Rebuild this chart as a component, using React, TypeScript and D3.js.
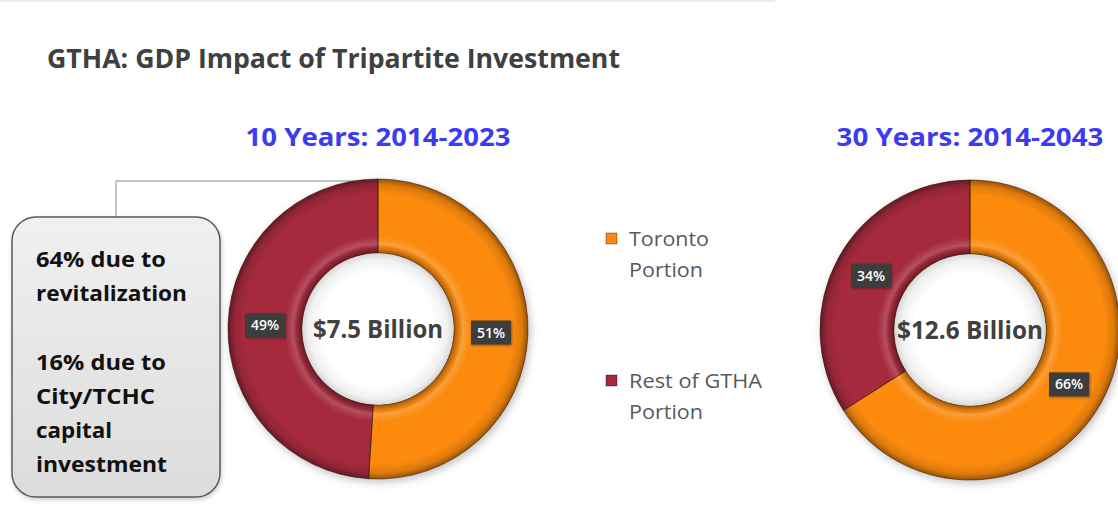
import React from "react";
import * as d3 from "d3";

const categories = ["Toronto Portion", "Rest of GTHA Portion"];
const legendLines = [["Toronto", "Portion"], ["Rest of GTHA", "Portion"]];
const tenYearShares = [51, 49];
const thirtyYearShares = [66, 34];
const periodTitles = ["10 Years: 2014-2023", "30 Years: 2014-2043"];
const totals = ["$7.5 Billion", "$12.6 Billion"];
const calloutLines = ["64% due to", "revitalization", "", "16% due to", "City/TCHC", "capital", "investment"];
const mainTitle = "GTHA: GDP Impact of Tripartite Investment";

const W = 1118;
const H = 506;
const colors = ["#FB8A10", "#A52A3C"];
const FONT = "'Open Sans', 'Noto Sans', sans-serif";

type Donut = { cx: number; cy: number; values: number[]; title: string; total: string; titleW: number; totalW: number };

const donuts: Donut[] = [
  { cx: 378, cy: 329, values: tenYearShares, title: periodTitles[0], total: totals[0], titleW: 265, totalW: 130 },
  { cx: 970, cy: 330, values: thirtyYearShares, title: periodTitles[1], total: totals[1], titleW: 267, totalW: 146 },
];

const R_OUT = 150;
const R_IN = 76;

function DonutChart({ d, idx }: { d: Donut; idx: number }) {
  const pie = d3.pie<number>().sort(null).value((v) => v);
  const arcs = pie(d.values);
  const arc = d3.arc<d3.PieArcDatum<number>>().innerRadius(R_IN).outerRadius(R_OUT);
  const labelArc = d3.arc<d3.PieArcDatum<number>>().innerRadius(113).outerRadius(113);
  return (
    <g>
      <text x={d.cx} y={146} textAnchor="middle" fontFamily={FONT} fontWeight={700} fontSize={25} fill="#3B3BF2" textLength={d.titleW} lengthAdjust="spacingAndGlyphs">
        {d.title}
      </text>
      <g transform={`translate(${d.cx},${d.cy})`}>
        <g filter="url(#dshadow)">
          {arcs.map((a, i) => (
            <path key={i} d={arc(a) || ""} fill={colors[i]} />
          ))}
        </g>
        {arcs.map((a, i) => (
          <path key={"o" + i} d={arc(a) || ""} fill={`url(#bevel${idx})`} stroke="#3a1a10" strokeOpacity={0.6} strokeWidth={1} />
        ))}
        <circle r={R_IN - 0.5} fill="url(#hole)" />
        {arcs.map((a, i) => {
          const [x, y] = labelArc.centroid(a);
          return (
            <g key={"l" + i} transform={`translate(${x},${y})`}>
              <rect x={-20} y={-12} width={40} height={24} fill="#3C3C3C" filter="url(#lshadow)" />
              <text y={5} textAnchor="middle" fontFamily={FONT} fontSize={14} fontWeight={600} fill="#ffffff">
                {d.values[i]}%
              </text>
            </g>
          );
        })}
        <text y={9} textAnchor="middle" fontFamily={FONT} fontWeight={700} fontSize={25} fill="#404040" textLength={d.totalW} lengthAdjust="spacingAndGlyphs">
          {d.total}
        </text>
      </g>
    </g>
  );
}

export default function App() {
  const calloutW = [130, 151, 0, 130, 119, 76, 131];
  const legendW = [[80, 74], [133, 74]];
  return (
    <svg width={W} height={H} style={{ position: "absolute", left: 0, top: 0, background: "#ffffff" }}>
      <defs>
        {donuts.map((d, i) => (
          <radialGradient key={i} id={`bevel${i}`} gradientUnits="userSpaceOnUse" cx={0} cy={0} r={R_OUT}>
            <stop offset="0.5" stopColor="#000" stopOpacity={0.45} />
            <stop offset="0.535" stopColor="#000" stopOpacity={0.12} />
            <stop offset="0.565" stopColor="#fff" stopOpacity={0.18} />
            <stop offset="0.62" stopColor="#fff" stopOpacity={0} />
            <stop offset="0.9" stopColor="#000" stopOpacity={0} />
            <stop offset="0.96" stopColor="#000" stopOpacity={0.12} />
            <stop offset="1" stopColor="#000" stopOpacity={0.4} />
          </radialGradient>
        ))}
        <radialGradient id="hole">
          <stop offset="0.75" stopColor="#ffffff" />
          <stop offset="0.92" stopColor="#f0f0f0" />
          <stop offset="1" stopColor="#d8d8d8" />
        </radialGradient>
        <linearGradient id="boxfill" x1="0" y1="0" x2="0" y2="1">
          <stop offset="0" stopColor="#f0f0f0" />
          <stop offset="0.5" stopColor="#e6e6e6" />
          <stop offset="1" stopColor="#dcdcdc" />
        </linearGradient>
        <filter id="dshadow" x="-20%" y="-20%" width="140%" height="140%">
          <feDropShadow dx={2} dy={3} stdDeviation={4} floodColor="#000" floodOpacity={0.25} />
        </filter>
        <filter id="lshadow" x="-30%" y="-30%" width="160%" height="160%">
          <feDropShadow dx={1} dy={1} stdDeviation={1.2} floodColor="#000" floodOpacity={0.4} />
        </filter>
        <filter id="bshadow" x="-10%" y="-10%" width="120%" height="120%">
          <feDropShadow dx={1} dy={2} stdDeviation={2} floodColor="#000" floodOpacity={0.2} />
        </filter>
      </defs>

      <rect x={0} y={0} width={775} height={2} fill="#ececec" />

      <text x={47} y={68} fontFamily={FONT} fontWeight={700} fontSize={26} fill="#404040" textLength={573} lengthAdjust="spacingAndGlyphs">
        {mainTitle}
      </text>

      {/* connector */}
      <polyline points="116,217 116,181 378,181" fill="none" stroke="#8c8c8c" strokeWidth={1} />

      {/* callout */}
      <rect x={12} y={217} width={208} height={280} rx={24} ry={24} fill="url(#boxfill)" stroke="#5a5a5a" strokeWidth={1.5} filter="url(#bshadow)" />
      {calloutLines.map((t, i) =>
        t ? (
          <text key={i} x={36} y={267 + i * 34.2} fontFamily={FONT} fontWeight={700} fontSize={22} fill="#111" textLength={calloutW[i]} lengthAdjust="spacingAndGlyphs">
            {t}
          </text>
        ) : null
      )}

      {donuts.map((d, i) => (
        <DonutChart key={i} d={d} idx={i} />
      ))}

      {/* legend */}
      {categories.map((c, i) => {
        const y0 = i === 0 ? 238 : 380;
        return (
          <g key={c}>
            <rect x={606} y={y0 - 5} width={11} height={11} fill={colors[i]} stroke="#000" strokeOpacity={0.35} strokeWidth={1} />
            {legendLines[i].map((ln, j) => (
              <text key={j} x={629} y={y0 + 8 + j * 30.5} fontFamily={FONT} fontSize={20} fill="#595959" textLength={legendW[i][j]} lengthAdjust="spacingAndGlyphs">
                {ln}
              </text>
            ))}
          </g>
        );
      })}
    </svg>
  );
}
